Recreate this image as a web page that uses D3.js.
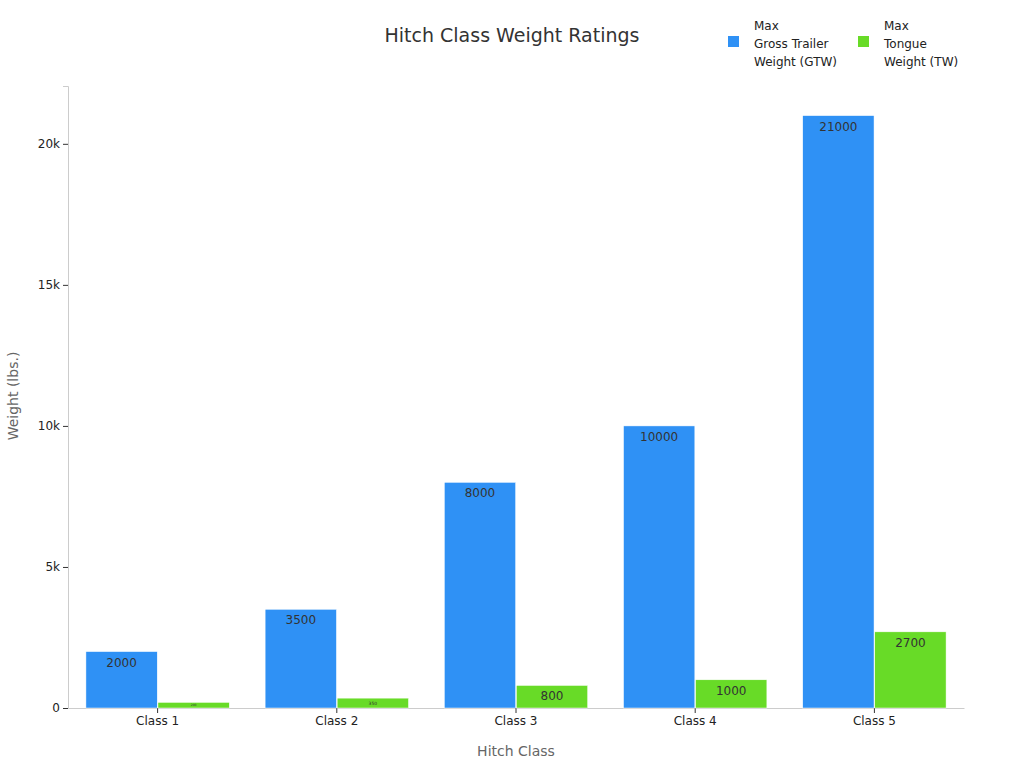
<!DOCTYPE html><html><head><meta charset="utf-8"><script src="https://cdn.jsdelivr.net/npm/d3@7"></script>
<style>body{margin:0;background:#fff;font-family:"DejaVu Sans",sans-serif}</style></head><body><svg id="c" width="1024" height="768"></svg><script>
const categories=["Class 1","Class 2","Class 3","Class 4","Class 5"];
const gtw=[2000,3500,8000,10000,21000];
const tw=[200,350,800,1000,2700];
const seriesNames=[["Max","Gross Trailer","Weight (GTW)"],["Max","Tongue","Weight (TW)"]];
const colors=["#2f91f5","#68db27"];
const yTicks=[0,5000,10000,15000,20000];
const svg=d3.select("#c");
const L=68,R=964,T=86,B=708;
const x=d3.scaleBand().domain(categories).range([L,R]).paddingInner(0.2).paddingOuter(0.1);
const xs=d3.scaleBand().domain([0,1]).range([0,x.bandwidth()]).paddingInner(0.01);
const y=d3.scaleLinear().domain([0,22050]).range([B,T]);
const ya=svg.append("g").attr("transform",`translate(${L},0)`).call(d3.axisLeft(y).tickValues(yTicks).tickSize(5).tickFormat(d=>d===0?"0":d/1000+"k"));
ya.select(".domain").attr("stroke","#ccc");ya.selectAll("line").attr("stroke","#333");
ya.selectAll("text").attr("font-size",12).attr("fill","#222").attr("font-family","DejaVu Sans");
const xa=svg.append("g").attr("transform",`translate(0,${B})`).call(d3.axisBottom(x).tickSize(5).tickSizeOuter(0));
xa.select(".domain").attr("stroke","#ccc");xa.selectAll("line").attr("stroke","#333");
xa.selectAll("text").attr("font-size",12).attr("fill","#222").attr("font-family","DejaVu Sans");
const data=[gtw,tw];
data.forEach((s,si)=>{
 categories.forEach((c,i)=>{
  const bx=x(c)+xs(si),bw=xs.bandwidth(),by=y(s[i]),bh=B-by;
  svg.append("rect").attr("x",bx).attr("y",by).attr("width",bw).attr("height",bh).attr("fill",colors[si]).attr("stroke","#fff").attr("stroke-width",0.5);
  let fs=12; if(bh<18) fs=Math.max(3,bh*0.45);
  svg.append("text").attr("x",bx+bw/2).attr("y",bh<18?by+bh/2+fs*0.35:by+15).attr("text-anchor","middle").attr("font-size",fs).attr("fill","#333").text(s[i]);
 });
});
svg.append("text").attr("x",512).attr("y",42).attr("text-anchor","middle").attr("font-size",19).attr("fill","#333").text("Hitch Class Weight Ratings");
svg.append("text").attr("x",516).attr("y",756).attr("text-anchor","middle").attr("font-size",14).attr("fill","#666").text("Hitch Class");
svg.append("text").attr("transform","translate(18,396) rotate(-90)").attr("text-anchor","middle").attr("font-size",14).attr("fill","#666").text("Weight (lbs.)");
const lx=[728,858];
seriesNames.forEach((n,i)=>{
 svg.append("rect").attr("x",lx[i]).attr("y",36).attr("width",11).attr("height",11).attr("fill",colors[i]);
 n.forEach((t,j)=>svg.append("text").attr("x",lx[i]+26).attr("y",30+j*18).attr("font-size",12).attr("fill","#222").text(t));
});
</script></body></html>
